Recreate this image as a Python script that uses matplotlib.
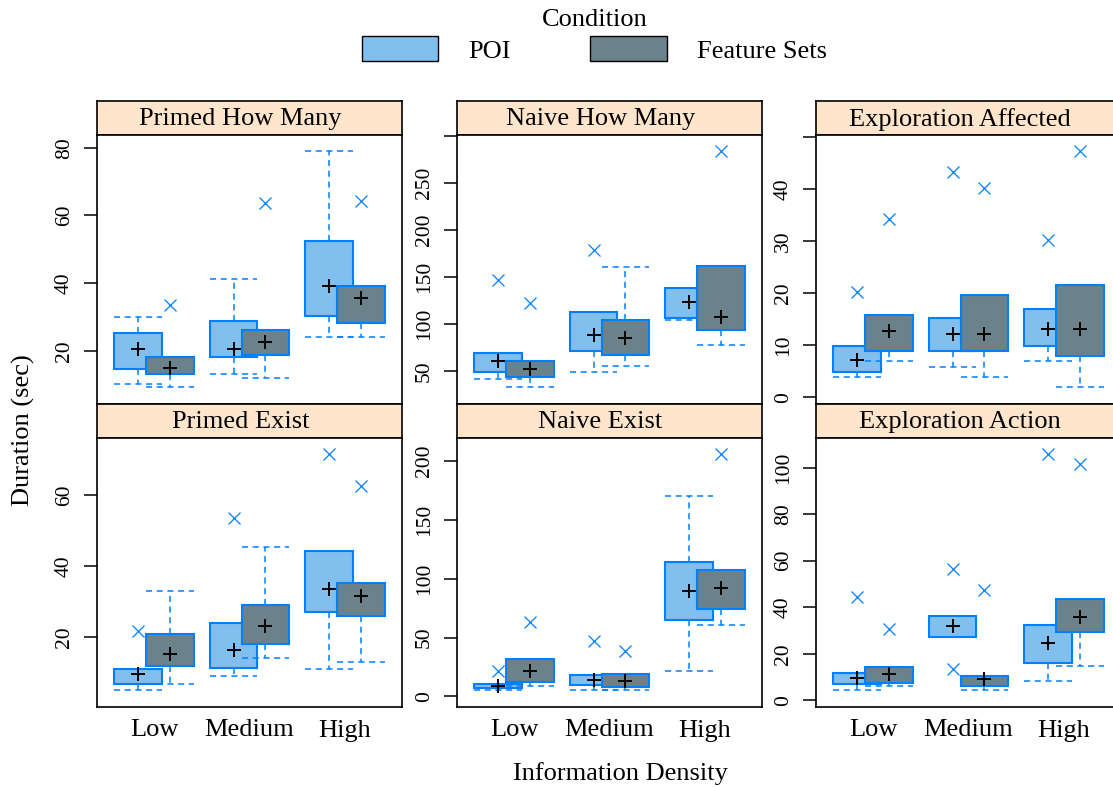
import matplotlib
matplotlib.use("Agg")
import matplotlib.pyplot as plt
from matplotlib.patches import Patch

plt.rcParams["font.family"] = ["Liberation Serif", "DejaVu Serif"]

panels = ["Primed How Many", "Naive How Many", "Exploration Affected",
          "Primed Exist", "Naive Exist", "Exploration Action"]
levels = ["Low", "Medium", "High"]
conditions = ["POI", "Feature Sets"]

# per panel: [POI values by level, Feature Sets values by level]
whisk_lo = [
    [[10.2, 13.1, 24.2], [9.2, 12.1, 24.2]],
    [[41.5, 49.3, 104.2], [32.3, 55.3, 77.6]],
    [[3.9, 5.9, 6.9], [6.9, 3.9, 1.9]],
    [[5.0, 9.0, 11.0], [6.9, 14.1, 12.9]],
    [[5.0, 5.0, 21.8], [9.1, 5.0, 60.9]],
    [[4.3, 27.1, 8.2], [6.4, 4.3, 15.0]],
]
q1 = [
    [[14.7, 18.1, 30.4], [13.1, 18.8, 28.1]],
    [[48.6, 71.2, 106.0], [43.3, 67.0, 93.2]],
    [[4.8, 8.9, 9.9], [8.9, 8.9, 7.9]],
    [[6.9, 11.2, 27.2], [12.0, 18.1, 26.0]],
    [[6.8, 9.9, 65.1], [11.9, 7.6, 74.4]],
    [[7.2, 27.1, 16.3], [7.5, 6.4, 29.2]],
]
q3 = [
    [[25.4, 28.8, 52.4], [18.1, 26.2, 39.1]],
    [[69.5, 113.0, 138.5], [61.0, 104.5, 161.9]],
    [[9.9, 15.2, 16.9], [15.9, 19.7, 21.5]],
    [[11.0, 24.1, 44.1], [20.9, 29.0, 35.1]],
    [[10.8, 17.8, 114.6], [32.0, 19.3, 107.6]],
    [[12.0, 36.2, 32.6], [14.2, 10.6, 43.4]],
]
whisk_hi = [
    [[30.1, 41.2, 79.0], [18.1, 26.2, 39.1]],
    [[69.5, 113.0, 138.5], [61.0, 160.8, 161.9]],
    [[9.9, 15.2, 16.9], [15.9, 19.7, 21.5]],
    [[11.0, 24.1, 44.1], [33.0, 45.3, 35.1]],
    [[10.8, 17.8, 170.6], [32.0, 19.3, 107.6]],
    [[12.0, 36.2, 32.6], [14.2, 10.6, 43.4]],
]
means = [
    [[20.5, 20.5, 39.2], [14.9, 22.7, 35.7]],
    [[60.6, 88.2, 123.6], [52.1, 85.4, 107.7]],
    [[7.2, 12.1, 13.2], [12.7, 12.1, 13.2]],
    [[9.5, 16.4, 33.4], [15.3, 23.0, 31.6]],
    [[9.1, 14.2, 89.7], [21.8, 12.7, 92.0]],
    [[9.6, 32.1, 24.6], [11.5, 9.4, 35.9]],
]
outliers = [
    [[[], [], []], [[33.5], [63.8], [64.3]]],
    [[[146.4], [179.3], []], [[121.9], [], [284.3]]],
    [[[20.3], [43.2], [30.2]], [[34.2], [40.2], [47.3]]],
    [[[21.6], [53.6], [71.5]], [[], [], [62.6]]],
    [[[21.2], [46.7], []], [[63.1], [38.2], [206.0]]],
    [[[44.4], [56.5, 13.5], [105.8]], [[30.5], [47.5], [101.4]]],
]
yticks = [
    [20, 40, 60, 80],
    [50, 100, 150, 200, 250, 300],
    [0, 10, 20, 30, 40, 50],
    [20, 40, 60],
    [0, 50, 100, 150, 200],
    [0, 20, 40, 60, 80, 100],
]
ytick_labels = [
    ["20", "40", "60", "80"],
    ["50", "100", "150", "200", "250", ""],
    ["0", "10", "20", "30", "40", ""],
    ["20", "40", "60"],
    ["0", "50", "100", "150", "200"],
    ["0", "20", "40", "60", "80", "100"],
]

fill_colors = ["#80BFEE", "#6B828A"]
edge_blue = "#0080FF"
strip_color = "#FFE5CC"

W, H = 1113, 787
fig = plt.figure(figsize=(W / 100, H / 100), dpi=100)

col_left = [97, 457, 816]
panel_w = 305
row_strip_top = [101, 404]
strip_h = 33.5
row_bottom = [404, 707]


def px_box(x0, y0, x1, y1):
    return [x0 / W, 1 - y1 / H, (x1 - x0) / W, (y1 - y0) / H]


for p, name in enumerate(panels):
    r, c = divmod(p, 3)
    x0 = col_left[c]
    top = row_strip_top[r]
    ax_s = fig.add_axes(px_box(x0, top, x0 + panel_w, top + strip_h))
    ax = fig.add_axes(px_box(x0, top + strip_h, x0 + panel_w, row_bottom[r]))

    ax_s.set_facecolor(strip_color)
    ax_s.set_xticks([])
    ax_s.set_yticks([])
    ax_s.text(0.5 - 9 / panel_w, 0.45, name, ha="center", va="center",
              fontsize=19, transform=ax_s.transAxes)

    for g in range(2):
        stats = []
        for k in range(3):
            stats.append(dict(
                whislo=whisk_lo[p][g][k], q1=q1[p][g][k],
                med=means[p][g][k], q3=q3[p][g][k],
                whishi=whisk_hi[p][g][k], mean=means[p][g][k],
                fliers=outliers[p][g][k]))
        offset = -1 / 6 if g == 0 else 1 / 6
        ax.bxp(stats, positions=[k + 1 + offset for k in range(3)],
               widths=0.5, capwidths=0.5, patch_artist=True,
               showmeans=True, manage_ticks=False, zorder=2 + g,
               boxprops=dict(facecolor=fill_colors[g], edgecolor=edge_blue,
                             linewidth=1.5),
               whiskerprops=dict(color=edge_blue, linewidth=1.1,
                                 linestyle=(0, (4, 3))),
               capprops=dict(color=edge_blue, linewidth=1.1,
                             linestyle=(0, (4, 3))),
               medianprops=dict(visible=False),
               meanprops=dict(marker="+", markersize=10,
                              markeredgecolor="black", markeredgewidth=1.4),
               flierprops=dict(marker="x", markersize=9,
                               markeredgecolor=edge_blue,
                               markeredgewidth=0.9))

    vals = [v for g in range(2) for k in range(3)
            for v in [whisk_lo[p][g][k], whisk_hi[p][g][k]] + outliers[p][g][k]]
    lo, hi = min(vals), max(vals)
    pad = 0.07 * (hi - lo)
    ax.set_ylim(lo - pad, hi + pad)
    ax.set_xlim(0.4, 3.6)

    ax.set_yticks(yticks[p])
    ax.set_yticklabels(ytick_labels[p], rotation=90, va="center")
    ax.tick_params(axis="y", direction="out", length=9.5, width=1.1,
                   pad=7, labelsize=15.5)
    ax.set_xticks([1, 2, 3])
    if r == 1:
        ax.set_xticklabels(levels)
        ax.tick_params(axis="x", length=0, pad=9, labelsize=19)
    else:
        ax.set_xticklabels([])
        ax.tick_params(axis="x", length=0)

    for a in (ax, ax_s):
        for sp in a.spines.values():
            sp.set_linewidth(1.2)

fig.text(620 / W, 1 - 780 / H, "Information Density", ha="center",
         va="baseline", fontsize=19)
fig.text(23 / W, 1 - 430 / H, "Duration (sec)", ha="center", va="center",
         rotation=90, fontsize=19)

handles = [Patch(facecolor=fill_colors[0], edgecolor="black", linewidth=1),
           Patch(facecolor=fill_colors[1], edgecolor="black", linewidth=1)]
fig.legend(handles, conditions, title="Condition", ncol=2,
           loc="upper center", bbox_to_anchor=(0.534, 1.009), frameon=False,
           fontsize=19, title_fontsize=19, handlelength=2.9,
           handleheight=1.1, handletextpad=1.15, columnspacing=3.0,
           borderpad=0.1, labelspacing=0.2)

fig.savefig("out.png", dpi=100)
